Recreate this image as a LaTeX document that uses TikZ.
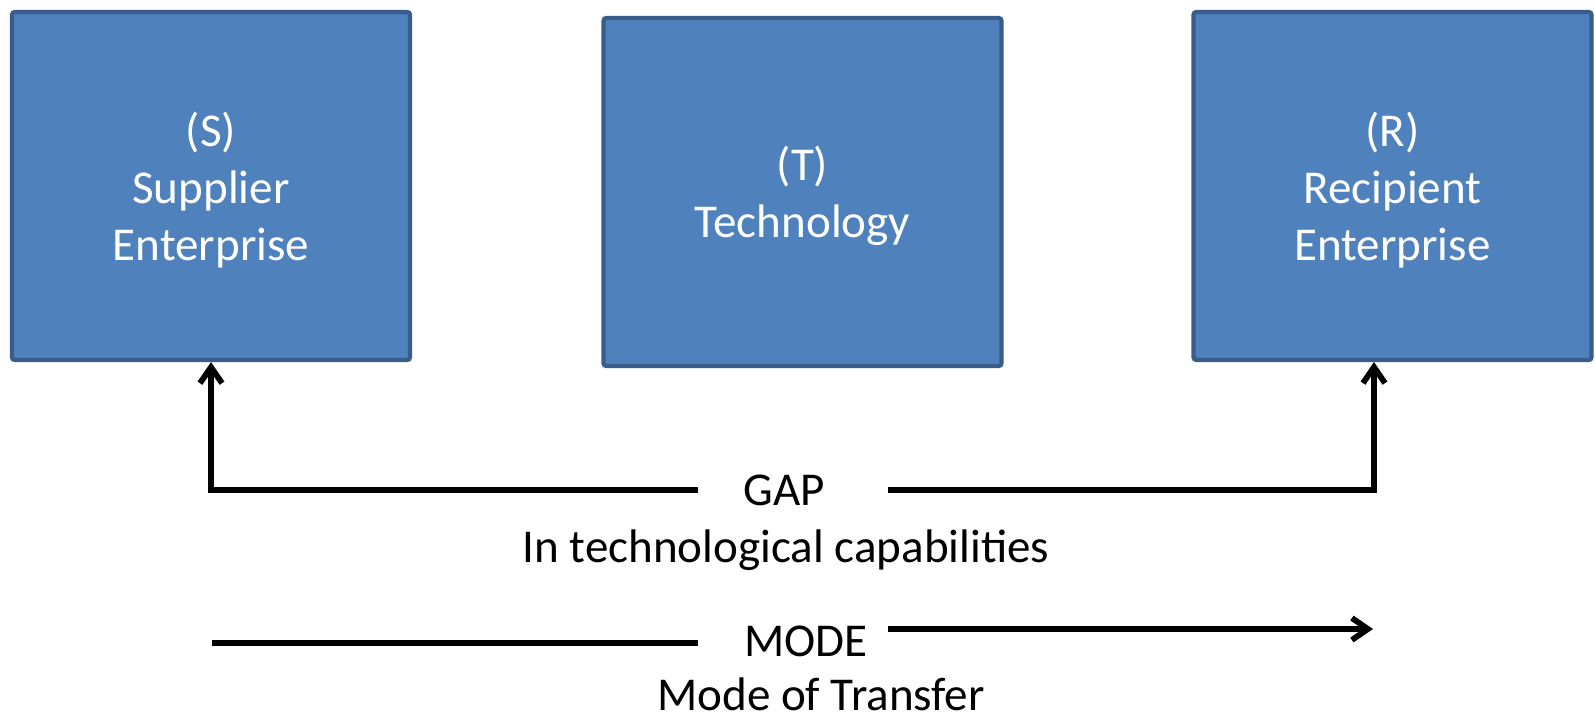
\documentclass[tikz,border=0pt]{standalone}
\usepackage{fontspec}
\setmainfont{Carlito}
\usetikzlibrary{arrows.meta}
\definecolor{boxfill}{HTML}{4F81BD}
\definecolor{boxline}{HTML}{385D8A}

\begin{document}
\begin{tikzpicture}[x=0.02cm, y=-0.02cm, font=\fontsize{26.8}{32.4}\selectfont,
  block/.style={draw=boxline, fill=boxfill, line width=2.4pt, rounded corners=1.5pt,
    text=white, align=center, inner sep=0pt, text depth=0pt,
    minimum width=7.96cm, minimum height=6.96cm},
  conn/.style={line width=3.3pt, -{Straight Barb[length=0.32cm,width=0.44cm]}},
  bar/.style={line width=3.3pt},
  txt/.style={anchor=base, inner sep=0pt}]
\useasboundingbox (0,0) rectangle (1595,714);
% parties and technology
\node[block] (S) at (211,186) {(S)\\Supplier\\Enterprise};
\node[block] (T) at (802.5,192) {(T)\\Technology};
\node[block] (R) at (1392.5,186) {(R)\\Recipient\\Enterprise};
% gap between S and R
\node[txt] (gap) at (784,505) {GAP};
\node[txt] (gapcap) at (786,562) {In technological capabilities};
\coordinate (gapL) at (698,490);
\coordinate (gapR) at (888,490);
\coordinate (rin) at (1374,362);
\draw[conn] (gapL) -| (S.south);
\draw[conn] (gapR) -| (rin);
% mode of transfer
\node[txt] (mode) at (806,656) {MODE};
\node[txt] (modecap) at (821,710) {Mode of Transfer};
\coordinate (modeA) at (212,643);
\coordinate (modeB) at (698,643);
\coordinate (modeC) at (888,629);
\coordinate (modeD) at (1373,629);
\draw[bar] (modeA) -- (modeB);
\draw[conn] (modeC) -- (modeD);
\end{tikzpicture}
\end{document}
